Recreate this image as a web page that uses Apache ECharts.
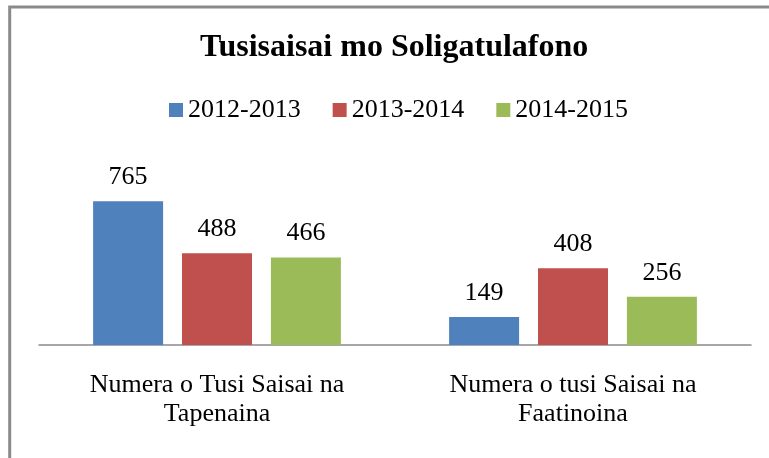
<!DOCTYPE html>
<html>
<head>
<meta charset="utf-8">
<script src="https://cdn.jsdelivr.net/npm/echarts@6/dist/echarts.min.js"></script>
<style>
  html, body { margin: 0; padding: 0; background: #fff; }
  #main { width: 769px; height: 458px; }
</style>
</head>
<body>
<div id="main"></div>
<script>
var categories = ['Numera o Tusi Saisai na\nTapenaina', 'Numera o tusi Saisai na\nFaatinoina'];
var seriesNames = ['2012-2013', '2013-2014', '2014-2015'];
var values2012 = [765, 149];
var values2013 = [488, 408];
var values2014 = [466, 256];
var colorList = ['#4F81BD', '#C0504D', '#9BBB59'];

var serif = "'Liberation Serif', 'Times New Roman', serif";
var myChart = echarts.init(document.getElementById('main'));

function makeSeries(name, data, color) {
  return {
    name: name,
    type: 'bar',
    data: data,
    barWidth: 70,
    barGap: '27%',
    itemStyle: { color: color },
    label: {
      show: true,
      position: 'top',
      distance: 11,
      color: '#000',
      fontFamily: serif,
      fontSize: 26
    }
  };
}

var option = {
  animation: false,
  color: colorList,
  title: {
    text: 'Tusisaisai mo Soligatulafono',
    left: 195,
    top: 27,
    textStyle: {
      fontFamily: serif,
      fontSize: 32,
      fontWeight: 'bold',
      color: '#000'
    }
  },
  legend: {
    top: 92,
    left: 164,
    icon: 'rect',
    itemWidth: 14,
    itemHeight: 14,
    itemGap: 32,
    textStyle: {
      fontFamily: serif,
      fontSize: 26,
      color: '#000'
    },
    data: seriesNames
  },
  grid: {
    left: 39,
    right: 18,
    top: 157,
    bottom: 113
  },
  xAxis: {
    type: 'category',
    data: categories,
    axisTick: { show: false },
    axisLine: { lineStyle: { color: '#8a8a8a', width: 1.5 } },
    axisLabel: {
      margin: 26,
      color: '#000',
      fontFamily: serif,
      fontSize: 26,
      lineHeight: 29,
      interval: 0
    }
  },
  yAxis: {
    type: 'value',
    min: 0,
    max: 1000,
    show: false,
    splitLine: { show: false }
  },
  graphic: [{
    type: 'rect',
    shape: { x: 9.7, y: 7, width: 900, height: 900 },
    style: { fill: 'none', stroke: '#8a8a8a', lineWidth: 3 },
    silent: true
  }],
  series: [
    makeSeries(seriesNames[0], values2012, colorList[0]),
    makeSeries(seriesNames[1], values2013, colorList[1]),
    makeSeries(seriesNames[2], values2014, colorList[2])
  ]
};

myChart.setOption(option);
</script>
</body>
</html>
